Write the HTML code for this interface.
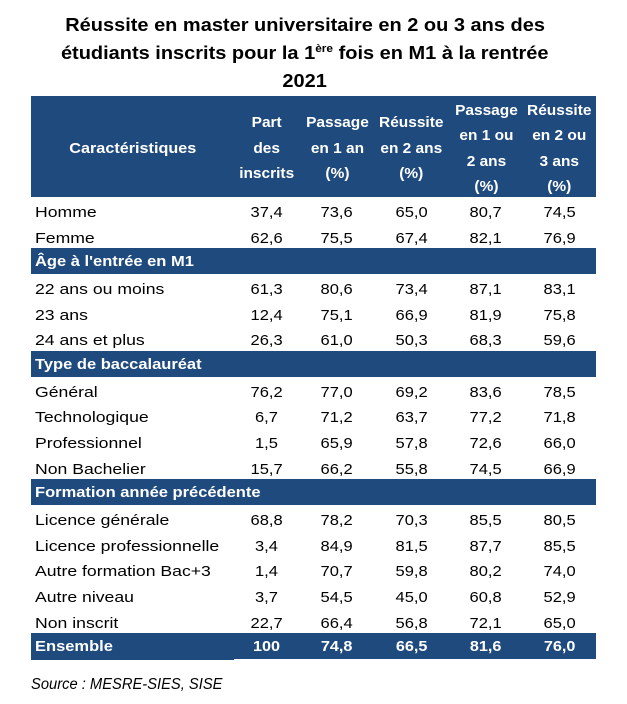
<!DOCTYPE html>
<html>
<head>
<meta charset="utf-8">
<style>
html,body{margin:0;padding:0;background:#fff;}
body{width:627px;height:704px;position:relative;overflow:hidden;font-family:"Liberation Sans",sans-serif;color:#000;}
.t{position:absolute;left:0;width:610px;text-align:center;font-weight:bold;font-size:18.5px;line-height:28px;white-space:nowrap;}
.t span.in{display:inline-block;transform:scaleX(1.08);transform-origin:center;}
sup{font-size:11px;line-height:0;vertical-align:0;position:relative;top:-7px;}
.hd{position:absolute;left:31px;top:96px;width:565px;height:101px;background:#1f4a7d;}
.h{position:absolute;color:#fff;font-weight:bold;font-size:15px;line-height:25.5px;text-align:center;width:90px;white-space:nowrap;}
.h span{display:inline-block;transform:scaleX(1.03);}
.r{position:absolute;left:0;width:627px;height:25.65px;}
.l{position:absolute;left:35px;top:7.2px;font-size:15px;line-height:18px;white-space:nowrap;transform:scaleX(1.175);transform-origin:left center;}
.c{position:absolute;top:7.2px;width:80px;text-align:center;font-size:15px;line-height:18px;white-space:nowrap;}
.c span{display:inline-block;transform:scaleX(1.1);}
.c1{left:226.5px}.c2{left:297px}.c3{left:371.5px}.c4{left:446px}.c5{left:519.5px}
.bg{position:absolute;left:31px;top:0;width:565px;height:25.65px;background:#1f4a7d;}
.b .l{top:4.7px;color:#fff;font-weight:bold;transform:scaleX(1.1);}
.b .c{top:4.7px;color:#fff;font-weight:bold;}
.b .c span{transform:scaleX(1.08);}
.src{position:absolute;left:31px;top:676.3px;font-size:15.5px;line-height:18px;font-style:italic;white-space:nowrap;transform:scaleX(0.95);transform-origin:left center;}
</style>
</head>
<body>
<div class="t" style="top:11.3px"><span class="in">Réussite en master universitaire en 2 ou 3 ans des</span></div>
<div class="t" style="top:39.3px"><span class="in">étudiants inscrits pour la 1<sup>ère</sup> fois en M1 à la rentrée</span></div>
<div class="t" style="top:67.3px"><span class="in">2021</span></div>

<div class="hd"></div>
<div class="h" style="left:72.6px;top:135.75px;width:120px"><span style="transform:scaleX(1.08)">Caractéristiques</span></div>
<div class="h" style="left:221.5px;top:110.25px"><span>Part<br>des<br>inscrits</span></div>
<div class="h" style="left:292px;top:110.25px"><span>Passage<br>en 1 an<br>(%)</span></div>
<div class="h" style="left:366.5px;top:110.25px"><span>Réussite<br>en 2 ans<br>(%)</span></div>
<div class="h" style="left:441px;top:97.5px"><span>Passage<br>en 1 ou<br>2 ans<br>(%)</span></div>
<div class="h" style="left:514.5px;top:97.5px"><span>Réussite<br>en 2 ou<br>3 ans<br>(%)</span></div>

<div class="r" style="top:197px"><div class="l">Homme</div><div class="c c1"><span>37,4</span></div><div class="c c2"><span>73,6</span></div><div class="c c3"><span>65,0</span></div><div class="c c4"><span>80,7</span></div><div class="c c5"><span>74,5</span></div></div>
<div class="r" style="top:222.65px"><div class="l">Femme</div><div class="c c1"><span>62,6</span></div><div class="c c2"><span>75,5</span></div><div class="c c3"><span>67,4</span></div><div class="c c4"><span>82,1</span></div><div class="c c5"><span>76,9</span></div></div>
<div class="r b" style="top:248.3px"><div class="bg"></div><div class="l">Âge à l'entrée en M1</div></div>
<div class="r" style="top:273.95px"><div class="l">22 ans ou moins</div><div class="c c1"><span>61,3</span></div><div class="c c2"><span>80,6</span></div><div class="c c3"><span>73,4</span></div><div class="c c4"><span>87,1</span></div><div class="c c5"><span>83,1</span></div></div>
<div class="r" style="top:299.6px"><div class="l">23 ans</div><div class="c c1"><span>12,4</span></div><div class="c c2"><span>75,1</span></div><div class="c c3"><span>66,9</span></div><div class="c c4"><span>81,9</span></div><div class="c c5"><span>75,8</span></div></div>
<div class="r" style="top:325.25px"><div class="l">24 ans et plus</div><div class="c c1"><span>26,3</span></div><div class="c c2"><span>61,0</span></div><div class="c c3"><span>50,3</span></div><div class="c c4"><span>68,3</span></div><div class="c c5"><span>59,6</span></div></div>
<div class="r b" style="top:350.9px"><div class="bg"></div><div class="l">Type de baccalauréat</div></div>
<div class="r" style="top:376.55px"><div class="l">Général</div><div class="c c1"><span>76,2</span></div><div class="c c2"><span>77,0</span></div><div class="c c3"><span>69,2</span></div><div class="c c4"><span>83,6</span></div><div class="c c5"><span>78,5</span></div></div>
<div class="r" style="top:402.2px"><div class="l">Technologique</div><div class="c c1"><span>6,7</span></div><div class="c c2"><span>71,2</span></div><div class="c c3"><span>63,7</span></div><div class="c c4"><span>77,2</span></div><div class="c c5"><span>71,8</span></div></div>
<div class="r" style="top:427.85px"><div class="l">Professionnel</div><div class="c c1"><span>1,5</span></div><div class="c c2"><span>65,9</span></div><div class="c c3"><span>57,8</span></div><div class="c c4"><span>72,6</span></div><div class="c c5"><span>66,0</span></div></div>
<div class="r" style="top:453.5px"><div class="l">Non Bachelier</div><div class="c c1"><span>15,7</span></div><div class="c c2"><span>66,2</span></div><div class="c c3"><span>55,8</span></div><div class="c c4"><span>74,5</span></div><div class="c c5"><span>66,9</span></div></div>
<div class="r b" style="top:479.15px"><div class="bg"></div><div class="l">Formation année précédente</div></div>
<div class="r" style="top:504.8px"><div class="l">Licence générale</div><div class="c c1"><span>68,8</span></div><div class="c c2"><span>78,2</span></div><div class="c c3"><span>70,3</span></div><div class="c c4"><span>85,5</span></div><div class="c c5"><span>80,5</span></div></div>
<div class="r" style="top:530.45px"><div class="l">Licence professionnelle</div><div class="c c1"><span>3,4</span></div><div class="c c2"><span>84,9</span></div><div class="c c3"><span>81,5</span></div><div class="c c4"><span>87,7</span></div><div class="c c5"><span>85,5</span></div></div>
<div class="r" style="top:556.1px"><div class="l">Autre formation Bac+3</div><div class="c c1"><span>1,4</span></div><div class="c c2"><span>70,7</span></div><div class="c c3"><span>59,8</span></div><div class="c c4"><span>80,2</span></div><div class="c c5"><span>74,0</span></div></div>
<div class="r" style="top:581.75px"><div class="l">Autre niveau</div><div class="c c1"><span>3,7</span></div><div class="c c2"><span>54,5</span></div><div class="c c3"><span>45,0</span></div><div class="c c4"><span>60,8</span></div><div class="c c5"><span>52,9</span></div></div>
<div class="r" style="top:607.4px"><div class="l">Non inscrit</div><div class="c c1"><span>22,7</span></div><div class="c c2"><span>66,4</span></div><div class="c c3"><span>56,8</span></div><div class="c c4"><span>72,1</span></div><div class="c c5"><span>65,0</span></div></div>
<div class="r b" style="top:633.05px"><div class="bg"></div><div style="position:absolute;left:31px;top:0;width:203px;height:27px;background:#1f4a7d;"></div><div class="l">Ensemble</div><div class="c c1"><span>100</span></div><div class="c c2"><span>74,8</span></div><div class="c c3"><span>66,5</span></div><div class="c c4"><span>81,6</span></div><div class="c c5"><span>76,0</span></div></div>

<div class="src">Source : MESRE-SIES, SISE</div>
</body>
</html>
